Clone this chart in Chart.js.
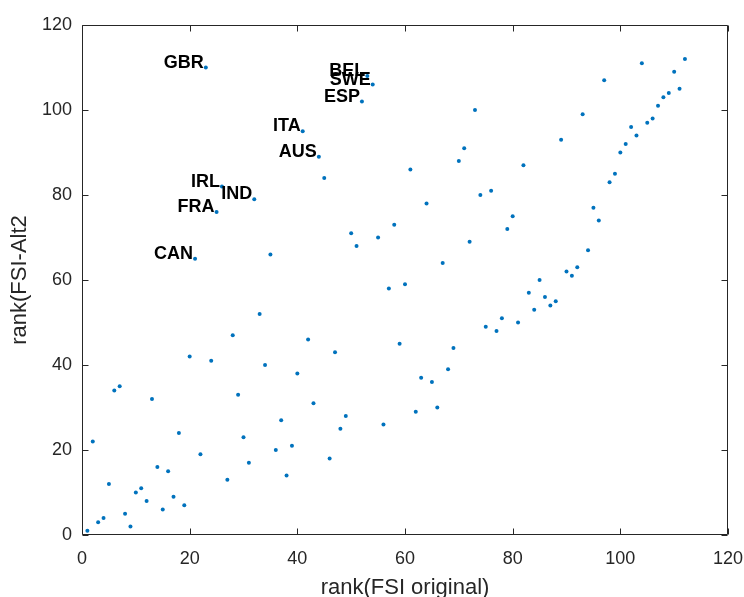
<!DOCTYPE html>
<html>
<head>
<meta charset="utf-8">
<script src="https://cdn.jsdelivr.net/npm/chart.js@4"></script>
<style>
html, body { margin: 0; padding: 0; background: #fff; }
#wrap { width: 744px; height: 597px; position: relative; }
</style>
</head>
<body>
<div id="wrap"><canvas id="rankChart"></canvas></div>
<script>
// rank under the original index (x) and under the Alt2 variant (y)
const rankOriginal = [
    1, 2, 3, 4, 5, 6, 7, 8, 9, 10, 11, 12, 13, 14, 15, 16, 17, 18, 19, 20,
    21, 22, 23, 24, 25, 26, 27, 28, 29, 30, 31, 32, 33, 34, 35, 36, 37, 38, 39, 40,
    41, 42, 43, 44, 45, 46, 47, 48, 49, 50, 51, 52, 53, 54, 55, 56, 57, 58, 59, 60,
    61, 62, 63, 64, 65, 66, 67, 68, 69, 70, 71, 72, 73, 74, 75, 76, 77, 78, 79, 80,
    81, 82, 83, 84, 85, 86, 87, 88, 89, 90, 91, 92, 93, 94, 95, 96, 97, 98, 99, 100,
    101, 102, 103, 104, 105, 106, 107, 108, 109, 110, 111, 112
];
const rankAlt2 = [
    1, 22, 3, 4, 12, 34, 35, 5, 2, 10, 11, 8, 32, 16, 6, 15, 9, 24, 7, 42,
    65, 19, 110, 41, 76, 82, 13, 47, 33, 23, 17, 79, 52, 40, 66, 20, 27, 14, 21, 38,
    95, 46, 31, 89, 84, 18, 43, 25, 28, 71, 68, 102, 108, 106, 70, 26, 58, 73, 45, 59,
    86, 29, 37, 78, 36, 30, 64, 39, 44, 88, 91, 69, 100, 80, 49, 81, 48, 51, 72, 75,
    50, 87, 57, 53, 60, 56, 54, 55, 93, 62, 61, 63, 99, 67, 77, 74, 107, 83, 85, 90,
    92, 96, 94, 111, 97, 98, 101, 103, 104, 109, 105, 112
];

// countries named on the plot, by their original rank
const labelCodes = ['CAN', 'GBR', 'FRA', 'IRL', 'IND', 'ITA', 'AUS', 'ESP', 'BEL', 'SWE'];
const labelRanks = [21, 23, 25, 26, 32, 41, 44, 52, 53, 54];

const axisTicks = [0, 20, 40, 60, 80, 100, 120];

const points = rankOriginal.map((r, i) => ({ x: r, y: rankAlt2[i] }));

const AXIS_COLOR = '#262626';
const FONT = '"Liberation Sans", Arial, Helvetica, sans-serif';

// MATLAB style box with inward ticks on every side
const boxAxes = {
    id: 'boxAxes',
    afterDraw(chart) {
        const { ctx, chartArea: a, scales: { x, y } } = chart;
        const L = Math.round(a.left) + 0.5, R = Math.round(a.right) - 0.5;
        const T = Math.round(a.top) + 0.5, B = Math.round(a.bottom) - 0.5;
        const len = 6;
        ctx.save();
        ctx.strokeStyle = AXIS_COLOR;
        ctx.lineWidth = 1;
        ctx.beginPath();
        ctx.rect(L, T, R - L, B - T);
        x.ticks.forEach(t => {
            const px = Math.round(x.getPixelForValue(t.value)) + 0.5;
            ctx.moveTo(px, B); ctx.lineTo(px, B - len);
            ctx.moveTo(px, T); ctx.lineTo(px, T + len);
        });
        y.ticks.forEach(t => {
            const py = Math.round(y.getPixelForValue(t.value)) + 0.5;
            ctx.moveTo(L, py); ctx.lineTo(L + len, py);
            ctx.moveTo(R, py); ctx.lineTo(R - len, py);
        });
        ctx.stroke();
        ctx.restore();
    }
};

// country codes, right aligned and sitting on their point
const countryLabels = {
    id: 'countryLabels',
    afterDatasetsDraw(chart) {
        const { ctx } = chart;
        const meta = chart.getDatasetMeta(0);
        ctx.save();
        ctx.font = 'bold 18px ' + FONT;
        ctx.fillStyle = '#000';
        ctx.textAlign = 'right';
        ctx.textBaseline = 'alphabetic';
        labelCodes.forEach((code, i) => {
            const idx = rankOriginal.indexOf(labelRanks[i]);
            const pt = meta.data[idx];
            ctx.fillText(code, pt.x - 2, pt.y);
        });
        ctx.restore();
    }
};

new Chart(document.getElementById('rankChart'), {
    type: 'scatter',
    data: {
        datasets: [{
            data: points,
            backgroundColor: '#0072BD',
            borderWidth: 0,
            pointRadius: 2,
            pointHoverRadius: 2
        }]
    },
    options: {
        responsive: true,
        maintainAspectRatio: false,
        animation: false,
        events: [],
        layout: { padding: { left: 0, right: 16, top: 25, bottom: 0 } },
        plugins: {
            legend: { display: false },
            tooltip: { enabled: false }
        },
        scales: {
            x: {
                type: 'linear',
                min: 0,
                max: 120,
                afterBuildTicks: s => { s.ticks = axisTicks.map(v => ({ value: v })); },
                afterFit: s => { s.height = 62; s.paddingLeft = 0; s.paddingRight = 0; },
                grid: { display: false, drawTicks: false },
                border: { display: false },
                ticks: { color: AXIS_COLOR, font: { family: FONT, size: 18 }, padding: 13 },
                title: {
                    display: true,
                    text: 'rank(FSI original)',
                    color: AXIS_COLOR,
                    font: { family: FONT, size: 22, lineHeight: 1 },
                    padding: { top: 0, bottom: -2 }
                }
            },
            y: {
                type: 'linear',
                min: 0,
                max: 120,
                afterBuildTicks: s => { s.ticks = axisTicks.map(v => ({ value: v })); },
                afterFit: s => { s.width = 82; s.paddingTop = 0; s.paddingBottom = 0; },
                grid: { display: false, drawTicks: false },
                border: { display: false },
                ticks: { color: AXIS_COLOR, font: { family: FONT, size: 18 }, padding: 10 },
                title: {
                    display: true,
                    text: 'rank(FSI-Alt2',
                    color: AXIS_COLOR,
                    font: { family: FONT, size: 22, lineHeight: 1 },
                    padding: { top: 9, bottom: 0 }
                }
            }
        }
    },
    plugins: [boxAxes, countryLabels]
});
</script>
</body>
</html>
